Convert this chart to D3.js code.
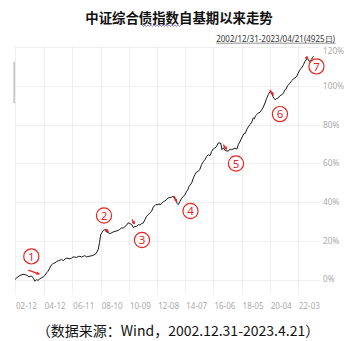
<!DOCTYPE html>
<html>
<head>
<meta charset="utf-8">
<script src="https://cdn.jsdelivr.net/npm/d3@7/dist/d3.min.js"></script>
<style>
  html, body { margin: 0; padding: 0; background: #fff; }
  svg { display: block; }
</style>
</head>
<body>
<svg id="chart" width="354" height="341"></svg>
<script>
// 中证综合债指数 cumulative return since base date (%)
const dates = [
  "2002-12-31","2003-02-19","2003-05-04","2003-07-18","2003-09-05","2003-10-25","2003-12-14",
  "2004-02-14","2004-03-30","2004-05-11","2004-06-22","2004-07-24","2004-09-12","2004-12-03",
  "2005-01-10","2005-02-25","2005-04-01","2005-05-18","2005-06-25","2005-08-08","2005-09-20",
  "2005-11-01","2006-01-22","2006-03-01","2006-04-14","2006-05-25","2006-07-07","2006-09-27",
  "2006-11-05","2006-12-18","2007-03-13","2007-04-20","2007-06-03","2007-07-15","2007-08-24",
  "2007-10-01","2007-11-16","2008-02-06","2008-04-21","2008-07-04","2008-08-30","2008-09-29",
  "2008-10-29","2008-11-30","2009-01-01","2009-01-31","2009-03-09","2009-04-28","2009-06-17",
  "2009-07-10","2009-08-06","2009-10-19","2010-01-02","2010-02-15","2010-04-03","2010-05-15",
  "2010-06-24","2010-08-01","2010-09-14","2010-10-27","2010-12-08","2011-01-17","2011-02-28",
  "2011-04-11","2011-05-21","2011-07-01","2011-08-13","2011-09-22","2011-11-03","2011-12-16",
  "2012-03-06","2012-04-15","2012-05-27","2012-07-26","2012-09-29","2012-10-20","2012-11-10",
  "2013-01-31","2013-03-10","2013-04-25","2013-06-04","2013-08-28","2013-10-06","2013-11-18",
  "2013-12-13","2014-01-14","2014-02-07","2014-03-22","2014-04-28","2014-06-12","2014-07-25",
  "2014-09-04","2014-10-01","2014-10-31","2015-01-06","2015-02-20","2015-03-29","2015-05-10",
  "2015-06-19","2015-07-30","2015-09-12","2015-10-25","2015-12-03","2016-01-12","2016-02-23",
  "2016-04-05","2016-05-17","2016-06-25","2016-08-07","2016-09-15","2016-10-28","2016-12-27",
  "2017-01-28","2017-03-06","2017-04-13","2017-07-04","2017-08-15","2017-09-26","2017-12-17",
  "2018-02-05","2018-03-09","2018-04-20","2018-06-01","2018-07-28","2018-09-01","2018-10-04",
  "2018-11-12","2018-12-24","2019-02-01","2019-03-17","2019-04-15","2019-05-10","2019-07-19",
  "2019-09-01","2019-10-11","2019-11-20","2020-01-01","2020-02-10","2020-03-23","2020-05-05",
  "2020-06-16","2020-07-18","2020-09-06","2020-10-13","2020-11-27","2021-01-10","2021-02-19",
  "2021-04-01","2021-05-12","2021-06-10","2021-07-13","2021-09-13","2021-10-15","2021-11-14",
  "2021-12-15","2022-01-15","2022-03-01","2022-04-07","2022-05-20","2022-07-01","2022-08-14",
  "2022-09-20","2022-11-17","2022-12-17","2023-01-06","2023-03-06","2023-04-21"
];
const values = [
  0.0, 1.0, 2.1, 2.7, 2.6, 2.1, 1.4,
  1.8, 0.7, -0.9, 0.0, -0.5, 0.4, 1.4,
  2.0, 3.5, 4.3, 6.2, 7.6, 8.3, 8.6,
  9.3, 10.0, 10.4, 9.7, 10.6, 11.0, 10.7,
  11.0, 11.7, 11.4, 11.9, 12.0, 11.6, 12.0,
  12.3, 11.7, 12.1, 12.4, 13.4, 15.5, 19.1,
  23.2, 24.3, 25.3, 25.8, 24.8, 24.3, 23.7,
  23.9, 24.3, 24.9, 25.3, 25.9, 26.7, 26.5,
  27.5, 28.0, 29.3, 28.9, 28.4, 26.8, 27.4,
  27.5, 28.4, 28.1, 28.9, 29.2, 31.0, 32.7,
  34.4, 35.2, 37.4, 38.7, 38.7, 39.2, 38.5,
  40.3, 40.6, 41.3, 42.2, 42.6, 43.0, 41.3,
  40.8, 39.2, 38.7, 40.4, 41.8, 43.0, 43.8,
  45.6, 46.3, 48.0, 49.9, 52.6, 54.2, 55.6,
  55.9, 57.0, 59.4, 61.0, 61.9, 63.6, 64.5,
  64.0, 66.2, 67.5, 68.0, 68.7, 70.6, 70.5,
  67.1, 68.1, 66.7, 66.3, 67.4, 67.1, 67.9,
  67.4, 69.7, 71.2, 73.1, 75.4, 75.6, 77.4,
  78.9, 80.0, 81.0, 83.5, 83.0, 84.6, 86.0,
  86.4, 87.7, 89.0, 91.2, 93.5, 95.5, 97.2,
  96.4, 94.5, 92.9, 93.4, 93.8, 95.0, 95.5,
  96.2, 98.1, 98.4, 100.1, 101.5, 102.4, 103.0,
  103.9, 104.1, 105.0, 106.7, 108.5, 109.3, 111.0,
  112.7, 114.4, 113.5, 112.7, 113.9, 115.4
];

// axis ticks
const tickDates = ["2002-12-31","2004-12-15","2006-11-25","2008-10-31","2010-09-30","2012-08-31",
                   "2014-07-31","2016-06-30","2018-05-31","2020-04-30","2022-03-31"];
const tickLabels = ["02-12","04-12","06-11","08-10","10-09","12-08","14-07","16-06","18-05","20-04","22-03"];
const yTicks = [0, 20, 40, 60, 80, 100, 120];

// marked drawdown episodes: where each arrow points on the curve
const eventLabels = ["①","②","③","④","⑤","⑥","⑦"];
const eventDates = ["2004-08-26","2009-05-06","2011-02-10","2013-12-30","2017-05-25","2020-07-25","2022-12-04"];
const eventValues = [2.8, 24.7, 28.7, 40.2, 67.3, 95.3, 114.0];

const parse = d3.timeParse("%Y-%m-%d");
const series = dates.map((d, i) => ({ date: parse(d), value: values[i] }));

const svg = d3.select("#chart");

const x = d3.scaleTime()
  .domain([parse("2002-12-31"), parse("2023-04-21")])
  .range([15, 313.5]);
const y = d3.scaleLinear().domain([0, 120]).range([279.5, 47.3]);

// title
svg.append("text")
  .attr("x", 179).attr("y", 22.5)
  .attr("text-anchor", "middle")
  .attr("font-family", "'Noto Sans CJK SC', sans-serif")
  .attr("font-weight", "bold")
  .attr("font-size", 13.4)
  .attr("fill", "#111")
  .text("中证综合债指数自基期以来走势");

// wavy editor underline beneath 债指数
const wave = [];
for (let px = 142; px <= 182; px += 1.5) {
  wave.push([px, 25.5 + ((Math.round((px - 142) / 1.5)) % 2 ? 1 : -0.6)]);
}
svg.append("path")
  .attr("d", d3.line()(wave))
  .attr("fill", "none")
  .attr("stroke", "#6f6fd8")
  .attr("stroke-width", 0.8);

// period subtitle
const sub = svg.append("text")
  .attr("x", 335).attr("y", 41.5)
  .attr("text-anchor", "end")
  .attr("font-family", "'Noto Sans', sans-serif")
  .attr("font-size", 8)
  .attr("fill", "#333")
  .text("2002/12/31-2023/04/21(4925日)");
const sb = sub.node().getBBox();
svg.append("line")
  .attr("x1", sb.x).attr("x2", sb.x + sb.width)
  .attr("y1", 43.2).attr("y2", 43.2)
  .attr("stroke", "#444").attr("stroke-width", 0.6);

// grid
const grid = svg.append("g");
grid.selectAll("line.h").data(yTicks).join("line")
  .attr("class", "h")
  .attr("x1", 15).attr("x2", 320)
  .attr("y1", d => Math.round(y(d)) + 0.5).attr("y2", d => Math.round(y(d)) + 0.5)
  .attr("stroke", "#efefef").attr("stroke-width", 1);
grid.selectAll("line.v").data(tickDates).join("line")
  .attr("class", "v")
  .attr("x1", d => Math.round(x(parse(d))) + 0.5).attr("x2", d => Math.round(x(parse(d))) + 0.5)
  .attr("y1", 46).attr("y2", 294)
  .attr("stroke", "#efefef").attr("stroke-width", 1);

// slim scroll handle at the left edge
svg.append("rect")
  .attr("x", 13.3).attr("y", 61.7).attr("width", 1.8).attr("height", 41.6)
  .attr("fill", "#c9c9c9");

// y labels on the right
svg.append("g").selectAll("text").data(yTicks).join("text")
  .attr("x", 323)
  .attr("y", d => y(d) + (d === 120 ? 3.5 : 0))
  .attr("dy", "0.35em")
  .attr("font-family", "'Noto Sans', sans-serif")
  .attr("font-size", 8.3)
  .attr("fill", "#aaa")
  .text(d => d + "%");

// x labels
svg.append("g").selectAll("text").data(tickDates).join("text")
  .attr("x", d => x(parse(d)) + 1)
  .attr("y", 308.5)
  .attr("font-family", "'Noto Sans', sans-serif")
  .attr("font-size", 8)
  .attr("fill", "#aaa")
  .text((d, i) => tickLabels[i]);

// index curve
svg.append("path")
  .datum(series)
  .attr("d", d3.line().x(d => x(d.date)).y(d => y(d.value)))
  .attr("fill", "none")
  .attr("stroke", "#1a1a1a")
  .attr("stroke-width", 1)
  .attr("stroke-linejoin", "round");

// annotations: small red arrows and circled numbers
const red = "#e8231f";
const arrowTail = [[-11, -4], [-3, -2.6], [-2.2, -4.5], [-2.7, -5.7], [-3.4, -4.5], [-3.3, -5.2], [-2, -2]];
const labelOffset = [[-8, -17.7], [-4.3, -16.2], [7.7, 16], [13.8, 9.3], [9.3, 14.2], [6.7, 19], [8.5, 7.5]];

const defs = svg.append("defs");
defs.append("marker")
  .attr("id", "head")
  .attr("viewBox", "0 0 10 10")
  .attr("refX", 8).attr("refY", 5)
  .attr("markerWidth", 2.6).attr("markerHeight", 2.6)
  .attr("orient", "auto")
  .append("path").attr("d", "M0,0 L10,5 L0,10 z").attr("fill", red);

const ann = svg.append("g");
eventLabels.forEach((lab, i) => {
  const tx = x(parse(eventDates[i]));
  const ty = y(eventValues[i]);
  ann.append("line")
    .attr("x1", tx + arrowTail[i][0]).attr("y1", ty + arrowTail[i][1])
    .attr("x2", tx).attr("y2", ty)
    .attr("stroke", red).attr("stroke-width", 1.4)
    .attr("marker-end", "url(#head)");
  const cx = tx + labelOffset[i][0];
  const cy = ty + labelOffset[i][1];
  ann.append("circle")
    .attr("cx", cx).attr("cy", cy).attr("r", 7.6)
    .attr("fill", "#fff").attr("stroke", red).attr("stroke-width", 1.2);
  ann.append("text")
    .attr("x", cx).attr("y", cy)
    .attr("dy", "0.36em")
    .attr("text-anchor", "middle")
    .attr("font-family", "'Noto Sans', sans-serif")
    .attr("font-size", 11.5)
    .attr("fill", red)
    .text(String(i + 1));
});

// source note
svg.append("text")
  .attr("x", 178).attr("y", 335.5)
  .attr("text-anchor", "middle")
  .attr("font-family", "'Noto Sans CJK SC', sans-serif")
  .attr("font-size", 14)
  .attr("fill", "#111")
  .text("（数据来源：Wind，2002.12.31-2023.4.21）");
</script>
</body>
</html>
